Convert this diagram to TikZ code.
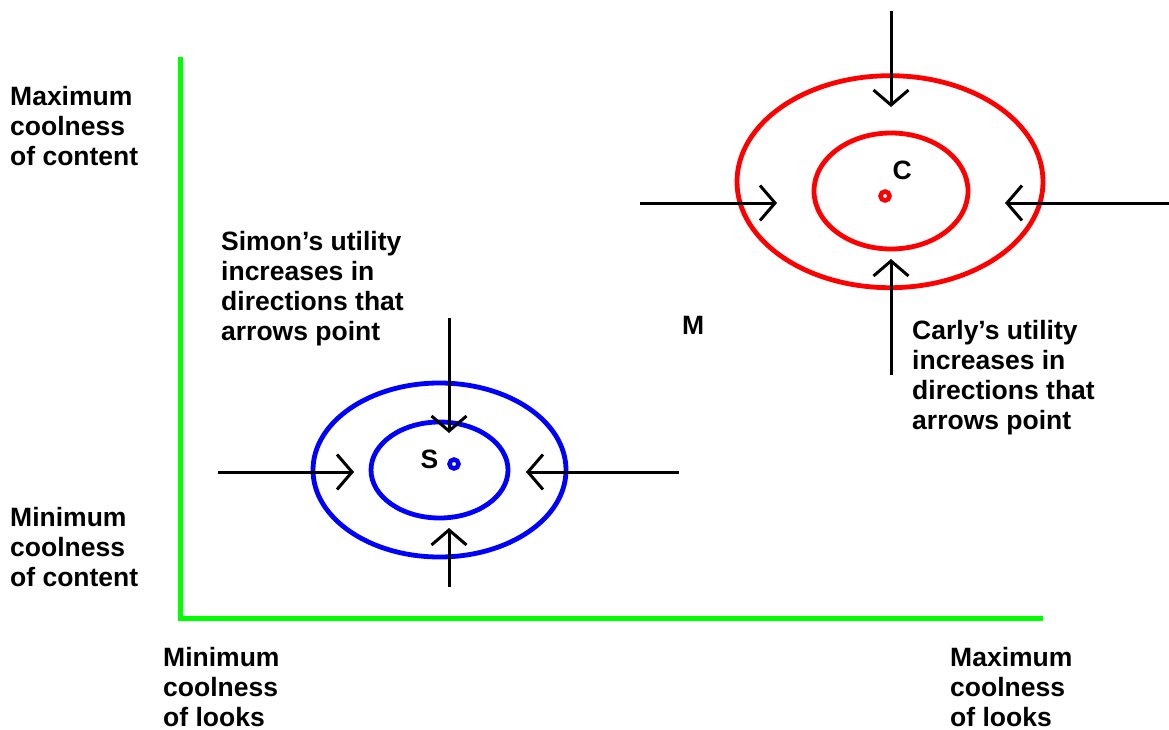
\documentclass[tikz,border=0pt]{standalone}
\usepackage{fontspec}
\setmainfont{Liberation Sans}
\usetikzlibrary{arrows.meta}
\definecolor{axgreen}{RGB}{0,255,0}
\definecolor{sblue}{RGB}{0,0,255}
\definecolor{cred}{RGB}{255,0,0}
\begin{document}
\begin{tikzpicture}[x=1pt,y=-1pt,
  lbl/.style={font=\fontsize{26.5}{30}\selectfont\bfseries, inner sep=0pt, align=left, anchor=north west},
  letter/.style={font=\fontsize{26.5}{30}\selectfont\bfseries, inner sep=0pt, anchor=base west},
  axisline/.style={draw=axgreen, line width=5pt},
  curve/.style={line width=4.8pt},
  optimum/.style={line width=4.5pt},
  push/.style={draw=black, line width=3pt, -{Straight Barb[length=15pt,width=35pt]}}]
\useasboundingbox (0,0) rectangle (1169,730);

% axes
\coordinate (ytop) at (180.5,57);
\coordinate (orig) at (180.5,618);
\coordinate (xend) at (1043,618);
\draw[axisline] (ytop) -- (orig) -- (xend);

% axis labels
\node[lbl] (ymax) at (10,86) {Maximum\\coolness\\of content};
\node[lbl] (ymin) at (10,507) {Minimum\\coolness\\of content};
\node[lbl] (xmin) at (163,647) {Minimum\\coolness\\of looks};
\node[lbl] (xmax) at (950,647) {Maximum\\coolness\\of looks};

% Simon
\coordinate (sc) at (439.5,470);
\draw[sblue, curve] (sc) ellipse [x radius=126.5, y radius=87];
\draw[sblue, curve] (sc) ellipse [x radius=68.5, y radius=48];
\coordinate (sdot) at (454,464);
\draw[sblue, optimum] (sdot) circle [radius=4.5];
\node[letter] (slbl) at (420.5,468) {S};
\node[lbl] (stext) at (221,231) {Simon’s utility\\increases in\\directions that\\arrows point};

\coordinate (s1a) at (449,318);  \coordinate (s1b) at (449,433);
\coordinate (s2a) at (449,587);  \coordinate (s2b) at (449,528);
\coordinate (s3a) at (218,472);  \coordinate (s3b) at (354,472);
\coordinate (s4a) at (679,472);  \coordinate (s4b) at (526,472);
\draw[push] (s1a) -- (s1b);
\draw[push] (s2a) -- (s2b);
\draw[push] (s3a) -- (s3b);
\draw[push] (s4a) -- (s4b);

% Carly
\draw[cred, curve] (890,181.7) ellipse [x radius=153, y radius=106];
\draw[cred, curve] (891,191) ellipse [x radius=77, y radius=58];
\coordinate (cdot) at (885,196);
\draw[cred, optimum] (cdot) circle [radius=4.5];
\node[letter] (clbl) at (892.5,180) {C};
\node[lbl] (ctext) at (912,320) {Carly’s utility\\increases in\\directions that\\arrows point};

\coordinate (c1a) at (891,11);    \coordinate (c1b) at (891,107);
\coordinate (c2a) at (891,375);   \coordinate (c2b) at (891,259);
\coordinate (c3a) at (640,203);   \coordinate (c3b) at (777,203);
\coordinate (c4a) at (1169,203);  \coordinate (c4b) at (1005,203);
\draw[push] (c1a) -- (c1b);
\draw[push] (c2a) -- (c2b);
\draw[push] (c3a) -- (c3b);
\draw[push] (c4a) -- (c4b);

% M
\node[letter] (mlbl) at (682,334) {M};
\end{tikzpicture}
\end{document}
